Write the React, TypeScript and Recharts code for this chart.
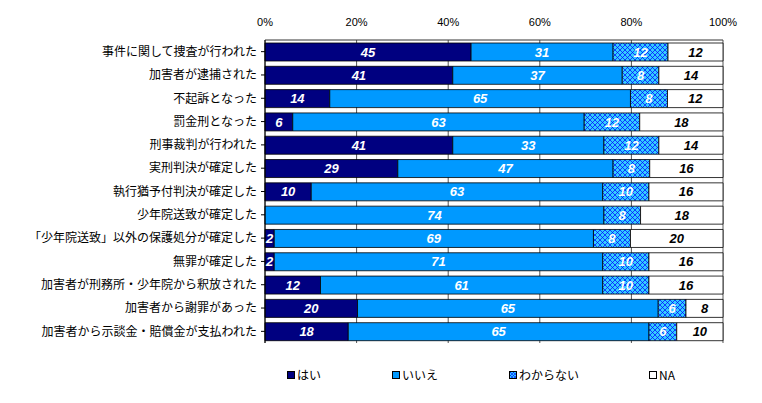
import { BarChart, Bar, XAxis, YAxis, CartesianGrid, LabelList } from "recharts";

const categories = [
  "事件に関して捜査が行われた",
  "加害者が逮捕された",
  "不起訴となった",
  "罰金刑となった",
  "刑事裁判が行われた",
  "実刑判決が確定した",
  "執行猶予付判決が確定した",
  "少年院送致が確定した",
  "「少年院送致」以外の保護処分が確定した",
  "無罪が確定した",
  "加害者が刑務所・少年院から釈放された",
  "加害者から謝罪があった",
  "加害者から示談金・賠償金が支払われた",
];
const hai = [45, 41, 14, 6, 41, 29, 10, 0, 2, 2, 12, 20, 18];
const iie = [31, 37, 65, 63, 33, 47, 63, 74, 69, 71, 61, 65, 65];
const wakaranai = [12, 8, 8, 12, 12, 8, 10, 8, 8, 10, 10, 6, 6];
const na = [12, 14, 12, 18, 14, 16, 16, 18, 20, 16, 16, 8, 10];
const ticks = [0, 0.2, 0.4, 0.6, 0.8, 1];

const series = [
  { key: "hai", name: "はい", fill: "#000080", text: "#fff" },
  { key: "iie", name: "いいえ", fill: "#0099FF", text: "#fff" },
  { key: "wakaranai", name: "わからない", fill: "url(#hatch)", text: "#fff" },
  { key: "na", name: "NA", fill: "#FFFFFF", text: "#000" },
];

const data = categories.map((c, i) => ({
  name: c,
  hai: hai[i],
  iie: iie[i],
  wakaranai: wakaranai[i],
  na: na[i],
}));

const legendX = [287, 392, 509, 649];

export default function App() {
  return (
    <div style={{ position: "relative", width: 762, height: 403, margin: -8, background: "#fff" }}>
      <BarChart
        width={762}
        height={403}
        data={data}
        layout="vertical"
        stackOffset="expand"
        margin={{ top: 10, right: 39, bottom: 60, left: 0 }}
        barSize={18}
      >
        <defs>
          <pattern id="hatch" width="5" height="5" patternUnits="userSpaceOnUse">
            <rect width="5" height="5" fill="#33CCFF" />
            <path d="M0,0 L5,5 M5,0 L0,5" stroke="#0000FF" strokeWidth="0.7" />
          </pattern>
        </defs>
        <CartesianGrid horizontal={false} stroke="#555" />
        <XAxis
          type="number"
          orientation="top"
          domain={[0, 1]}
          ticks={ticks}
          tickFormatter={(v: number) => `${Math.round(v * 100)}%`}
          tickLine={false}
          tickSize={0}
          tickMargin={14}
          height={30}
          axisLine={{ stroke: "#333" }}
          tick={{ fill: "#000", fontSize: 11, fontFamily: "Liberation Sans" }}
        />
        <XAxis
          xAxisId="bottom"
          type="number"
          orientation="bottom"
          domain={[0, 1]}
          tick={false}
          tickLine={false}
          height={0}
          axisLine={{ stroke: "#888" }}
        />
        <YAxis
          type="category"
          dataKey="name"
          width={265}
          tickSize={4}
          tickMargin={4}
          axisLine={{ stroke: "#000" }}
          tickLine={{ stroke: "#000" }}
          interval={0}
          tick={{ fill: "#000", fontSize: 12, fontFamily: "Noto Sans CJK JP" }}
        />
        {series.map((s) => (
          <Bar
            key={s.key}
            dataKey={s.key}
            name={s.name}
            stackId="a"
            fill={s.fill}
            stroke="#000"
            strokeWidth={0.8}
            isAnimationActive={false}
          >
            <LabelList
              dataKey={s.key}
              position="center"
              formatter={(v: any) => (v ? v : "")}
              style={{
                fill: s.text,
                fontSize: 13,
                fontWeight: "bold",
                fontStyle: "italic",
                fontFamily: "Liberation Sans",
              }}
            />
          </Bar>
        ))}
      </BarChart>
      {series.map((s, i) => (
        <div
          key={s.key}
          style={{
            position: "absolute",
            left: legendX[i],
            top: 366,
            display: "flex",
            alignItems: "center",
            fontSize: 12,
            fontFamily: "Noto Sans CJK JP",
            color: "#000",
          }}
        >
          <svg width={8} height={8} style={{ marginRight: 2 }}>
            <defs>
              <pattern id={`lh-${s.key}`} width="3" height="3" patternUnits="userSpaceOnUse">
                <rect width="3" height="3" fill="#33CCFF" />
                <path d="M0,0 L3,3 M3,0 L0,3" stroke="#0000FF" strokeWidth="0.6" />
              </pattern>
            </defs>
            <rect
              x={0.5}
              y={0.5}
              width={7}
              height={7}
              fill={s.key === "wakaranai" ? `url(#lh-${s.key})` : s.fill}
              stroke="#000"
              strokeWidth={1}
            />
          </svg>
          {s.name}
        </div>
      ))}
    </div>
  );
}
